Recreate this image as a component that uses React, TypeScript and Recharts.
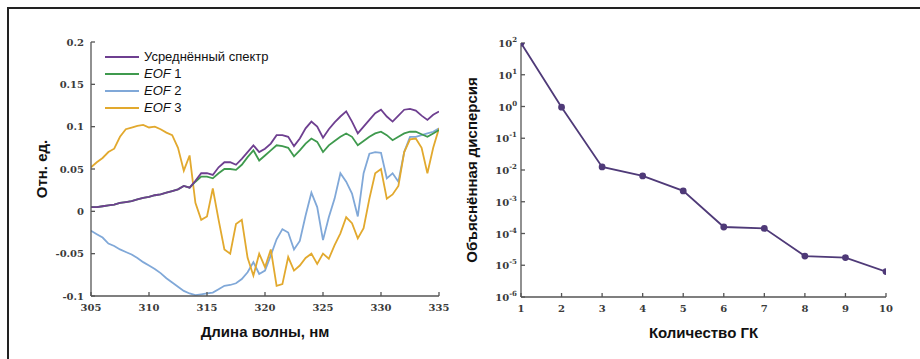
import React from 'react';
import { LineChart, Line, XAxis, YAxis, Legend, Label } from 'recharts';

// Спектры: длина волны, нм
const wavelengths = [
  305, 305.5, 306, 306.5, 307, 307.5, 308, 308.5, 309, 309.5,
  310, 310.5, 311, 311.5, 312, 312.5, 313, 313.5, 314, 314.5,
  315, 315.5, 316, 316.5, 317, 317.5, 318, 318.5, 319, 319.5,
  320, 320.5, 321, 321.5, 322, 322.5, 323, 323.5, 324, 324.5,
  325, 325.5, 326, 326.5, 327, 327.5, 328, 328.5, 329, 329.5,
  330, 330.5, 331, 331.5, 332, 332.5, 333, 333.5, 334, 334.5,
  335,
];

const meanSpectrum = [
  0.005, 0.005, 0.006, 0.007, 0.008, 0.010, 0.011, 0.012, 0.014, 0.016,
  0.017, 0.019, 0.020, 0.022, 0.024, 0.026, 0.030, 0.028, 0.036, 0.045,
  0.045, 0.043, 0.052, 0.058, 0.058, 0.055, 0.062, 0.070, 0.078, 0.070,
  0.074, 0.080, 0.090, 0.090, 0.088, 0.077, 0.086, 0.098, 0.106, 0.100,
  0.087, 0.097, 0.105, 0.112, 0.118, 0.106, 0.092, 0.100, 0.108, 0.116,
  0.120, 0.112, 0.106, 0.113, 0.120, 0.121, 0.119, 0.113, 0.108, 0.114,
  0.118,
];

const eof1 = [
  0.005, 0.005, 0.006, 0.007, 0.008, 0.010, 0.011, 0.012, 0.014, 0.016,
  0.017, 0.019, 0.020, 0.022, 0.024, 0.026, 0.030, 0.028, 0.035, 0.041,
  0.041, 0.039, 0.045, 0.050, 0.050, 0.049, 0.055, 0.064, 0.072, 0.060,
  0.066, 0.072, 0.078, 0.077, 0.075, 0.065, 0.072, 0.080, 0.086, 0.082,
  0.070, 0.078, 0.083, 0.088, 0.092, 0.088, 0.078, 0.083, 0.088, 0.092,
  0.094, 0.090, 0.084, 0.088, 0.092, 0.094, 0.094, 0.091, 0.088, 0.092,
  0.096,
];

const eof2 = [
  -0.023, -0.027, -0.031, -0.038, -0.041, -0.045, -0.048, -0.051, -0.055, -0.060,
  -0.064, -0.068, -0.073, -0.079, -0.084, -0.089, -0.094, -0.097, -0.099, -0.098,
  -0.097, -0.096, -0.092, -0.088, -0.087, -0.085, -0.080, -0.072, -0.060, -0.074,
  -0.070, -0.052, -0.033, -0.021, -0.025, -0.045, -0.035, -0.005, 0.022, 0.005,
  -0.034, -0.007, 0.015, 0.045, 0.035, 0.021, -0.006, 0.045, 0.068, 0.070,
  0.069, 0.039, 0.045, 0.035, 0.070, 0.088, 0.088, 0.090, 0.092, 0.094,
  0.098,
];

const eof3 = [
  0.052, 0.058, 0.063, 0.070, 0.074, 0.088, 0.097, 0.099, 0.101, 0.102,
  0.099, 0.100, 0.097, 0.093, 0.090, 0.075, 0.048, 0.066, 0.010, -0.010,
  -0.006, 0.027, -0.010, -0.045, -0.050, -0.015, -0.010, -0.055, -0.076, -0.050,
  -0.066, -0.045, -0.088, -0.086, -0.054, -0.070, -0.064, -0.055, -0.050, -0.062,
  -0.050, -0.056, -0.040, -0.026, -0.007, -0.014, -0.032, -0.020, 0.015, 0.045,
  0.050, 0.015, 0.020, 0.030, 0.070, 0.085, 0.086, 0.075, 0.045, 0.075,
  0.098,
];

const specTicksX = [305, 310, 315, 320, 325, 330, 335];
const specTicksY = [-0.1, -0.05, 0, 0.05, 0.1, 0.15, 0.2];

// Объяснённая дисперсия по главным компонентам
const components = [1, 2, 3, 4, 5, 6, 7, 8, 9, 10];
const explainedVariance = [100, 0.95, 0.0125, 0.0065, 0.0022, 0.00016, 0.000145, 0.0000195, 0.0000175, 0.0000063];
const varTicksY = [1e-6, 1e-5, 1e-4, 1e-3, 1e-2, 1e-1, 1, 10, 100];

const series = [
  { key: 'mean', name: 'Усреднённый спектр', color: '#6e3f90' },
  { key: 'eof1', name: 'EOF 1', color: '#3f9a4e' },
  { key: 'eof2', name: 'EOF 2', color: '#80a8d8' },
  { key: 'eof3', name: 'EOF 3', color: '#e2a92e' },
];

const specData = wavelengths.map((w, i) => ({
  w,
  mean: meanSpectrum[i],
  eof1: eof1[i],
  eof2: eof2[i],
  eof3: eof3[i],
}));

const varData = components.map((c, i) => ({ c, v: explainedVariance[i] }));

const AXIS = '#555';
const TICK_FONT = { fontFamily: '"DejaVu Serif", serif', fontSize: 10, fontWeight: 'bold', fill: '#3a3a3a' };
const TITLE_STYLE = { fontFamily: '"Liberation Sans", Arial, sans-serif', fontSize: 15, fontWeight: 'bold', fill: '#111' };

const renderLegend = () => (
  <div style={{ fontFamily: '"Liberation Sans", Arial, sans-serif', fontSize: 13, color: '#111' }}>
    {series.map((s) => {
      const isEof = s.name.startsWith('EOF');
      return (
        <div key={s.key} style={{ display: 'flex', alignItems: 'center', height: 17 }}>
          <svg width={36} height={6} style={{ marginRight: 3 }}>
            <line x1={0} y1={3} x2={34} y2={3} stroke={s.color} strokeWidth={2} />
          </svg>
          {isEof ? (
            <span>
              <i>EOF</i>
              {s.name.slice(3)}
            </span>
          ) : (
            <span>{s.name}</span>
          )}
        </div>
      );
    })}
  </div>
);

const PowerTick = (props: any) => {
  const { x, y, payload } = props;
  const exp = Math.round(Math.log10(payload.value));
  return (
    <text x={x} y={y} dy={4} textAnchor="end" {...TICK_FONT}>
      10
      <tspan dy={-5} fontSize={7}>
        {exp}
      </tspan>
    </text>
  );
};

const App = () => {
  return (
    <div style={{ position: 'absolute', left: 0, top: 0, width: 920, height: 359, background: '#fff', overflow: 'hidden' }}>
      <div
        style={{
          position: 'absolute',
          left: 7,
          top: 7,
          width: 920,
          height: 360,
          borderTop: '2px solid #222',
          borderLeft: '2px solid #222',
        }}
      />

      {/* Спектр и EOF */}
      <div style={{ position: 'absolute', left: 0, top: 0 }}>
        <LineChart width={460} height={359} data={specData} margin={{ top: 42, right: 21, bottom: 33, left: 31 }}>
          <XAxis
            dataKey="w"
            type="number"
            domain={[305, 335]}
            ticks={specTicksX}
            allowDataOverflow
            height={30}
            stroke={AXIS}
            strokeWidth={1.3}
            tickSize={-4}
            tickMargin={12}
            tick={TICK_FONT}
          >
            <Label value="Длина волны, нм" position="bottom" offset={0} style={TITLE_STYLE} />
          </XAxis>
          <XAxis
            xAxisId="top"
            orientation="top"
            type="number"
            domain={[305, 335]}
            ticks={specTicksX}
            allowDataOverflow
            height={0}
            stroke={AXIS}
            strokeWidth={1.3}
            tickSize={-4}
            tick={false}
          />
          <YAxis
            type="number"
            domain={[-0.1, 0.2]}
            ticks={specTicksY}
            allowDataOverflow
            width={60}
            stroke={AXIS}
            strokeWidth={1.3}
            tickSize={-4}
            tickMargin={11}
            tick={TICK_FONT}
          >
            <Label
              value="Отн. ед."
              position="insideLeft"
              angle={-90}
              offset={11}
              style={{ ...TITLE_STYLE, textAnchor: 'middle' }}
            />
          </YAxis>
          <YAxis
            yAxisId="right"
            orientation="right"
            type="number"
            domain={[-0.1, 0.2]}
            ticks={specTicksY}
            allowDataOverflow
            width={0}
            stroke={AXIS}
            strokeWidth={1.3}
            tickSize={-4}
            tick={false}
          />
          <Legend
            layout="vertical"
            align="center"
            verticalAlign="middle"
            content={renderLegend}
            wrapperStyle={{ left: 105, top: 48, width: 200 }}
          />
          <Line dataKey="eof2" name="EOF 2" stroke="#80a8d8" strokeWidth={1.8} dot={false} isAnimationActive={false} />
          <Line dataKey="eof3" name="EOF 3" stroke="#e2a92e" strokeWidth={1.8} dot={false} isAnimationActive={false} />
          <Line dataKey="eof1" name="EOF 1" stroke="#3f9a4e" strokeWidth={1.8} dot={false} isAnimationActive={false} />
          <Line dataKey="mean" name="Усреднённый спектр" stroke="#6e3f90" strokeWidth={1.8} dot={false} isAnimationActive={false} />
        </LineChart>
      </div>

      {/* Объяснённая дисперсия */}
      <div style={{ position: 'absolute', left: 460, top: 0 }}>
        <LineChart width={460} height={359} data={varData} margin={{ top: 43, right: 34, bottom: 32, left: 0 }}>
          <XAxis
            dataKey="c"
            type="number"
            domain={[1, 10]}
            ticks={components}
            allowDataOverflow
            height={30}
            stroke={AXIS}
            strokeWidth={1.3}
            tickSize={-4}
            tickMargin={12}
            tick={TICK_FONT}
          >
            <Label value="Количество ГК" position="bottom" offset={0} style={TITLE_STYLE} />
          </XAxis>
          <XAxis
            xAxisId="top"
            orientation="top"
            type="number"
            domain={[1, 10]}
            ticks={components}
            allowDataOverflow
            height={0}
            stroke={AXIS}
            strokeWidth={1.3}
            tickSize={-4}
            tick={false}
          />
          <YAxis
            type="number"
            scale="log"
            domain={[1e-6, 100]}
            ticks={varTicksY}
            allowDataOverflow
            width={61}
            stroke={AXIS}
            strokeWidth={1.3}
            tickSize={-4}
            tickMargin={8}
            tick={<PowerTick />}
          >
            <Label
              value="Объяснённая дисперсия"
              position="insideLeft"
              angle={-90}
              offset={12}
              style={{ ...TITLE_STYLE, textAnchor: 'middle' }}
            />
          </YAxis>
          <YAxis
            yAxisId="right"
            orientation="right"
            type="number"
            scale="log"
            domain={[1e-6, 100]}
            ticks={varTicksY}
            allowDataOverflow
            width={0}
            stroke={AXIS}
            strokeWidth={1.3}
            tickSize={-4}
            tick={false}
          />
          <Line
            dataKey="v"
            stroke="#4f3a78"
            strokeWidth={1.8}
            dot={{ r: 2.5, fill: '#4f3a78', stroke: '#4f3a78' }}
            isAnimationActive={false}
          />
        </LineChart>
      </div>
    </div>
  );
};

export default App;
